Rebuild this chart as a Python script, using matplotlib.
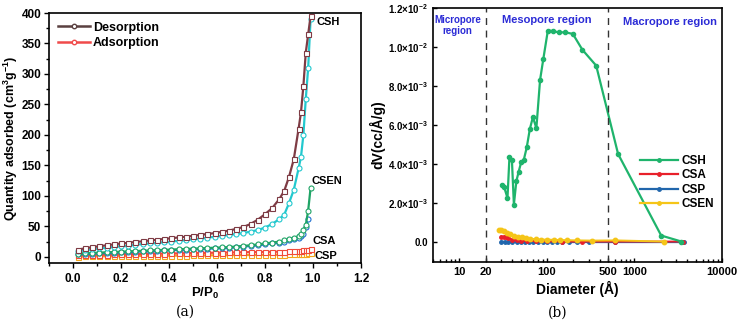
import matplotlib
matplotlib.use("Agg")
import matplotlib.pyplot as plt
from matplotlib.ticker import FixedLocator, LogLocator, NullFormatter, MultipleLocator
from matplotlib.lines import Line2D

plt.rcParams['font.family'] = ['Liberation Sans', 'DejaVu Sans']
plt.rcParams['mathtext.fontset'] = 'custom'
plt.rcParams['mathtext.rm'] = 'Liberation Sans:bold'
plt.rcParams['mathtext.it'] = 'Liberation Sans:bold'
plt.rcParams['mathtext.bf'] = 'Liberation Sans:bold'

# ---------------- (a) isotherms ----------------
pp = [0.02, 0.05, 0.08, 0.11, 0.14, 0.17, 0.20, 0.23, 0.26, 0.29, 0.32, 0.35, 0.38,
      0.41, 0.44, 0.47, 0.50, 0.53, 0.56, 0.59, 0.62, 0.65, 0.68, 0.71, 0.74, 0.77,
      0.80, 0.83, 0.86, 0.88, 0.90, 0.92, 0.94, 0.95, 0.96, 0.97, 0.98, 0.99]
csh_des = [12, 14, 16, 17.5, 19, 20.5, 22, 23, 24.5, 25.5, 27, 28, 29.5, 30.5, 32, 33,
           34.5, 36, 37.5, 39, 41, 43, 46, 49, 54, 61, 70, 80, 95, 108, 131, 160, 210,
           237, 280, 335, 365, 395]
csh_ads = [9, 11, 12.5, 14, 15, 16.5, 17.5, 18.5, 20, 21, 22, 23, 24, 25, 26.5, 27.5,
           29, 30, 31.5, 33, 34.5, 36, 37.5, 39, 41.5, 44, 48, 54, 62, 69, 88, 110, 145,
           164, 200, 259, 310, 390]
csen_a = [5, 6, 6.5, 7, 7.5, 8, 8.5, 9, 9.5, 10, 10.5, 11, 11.5, 12, 12.5, 13, 13.5, 14,
          14.5, 15, 15.5, 16, 17, 18, 19, 20.5, 22, 23.5, 25, 27, 29, 31, 34, 38, 44,
          52, 76, 113]
csen_b = [4, 5, 5.5, 6, 6.5, 7, 7.5, 8, 8.5, 9, 9.5, 10, 10.5, 11, 11.5, 12, 12.5, 13,
          13.5, 14, 14.5, 15, 16, 17, 18, 19, 20.5, 22, 23.5, 25, 27, 29, 31, 34, 38,
          49, 62, None]
csa = [3, 3.2, 3.4, 3.6, 3.8, 4, 4.2, 4.4, 4.6, 4.8, 5, 5.2, 5.4, 5.6, 5.8, 6, 6.2, 6.4,
       6.6, 6.8, 7, 7.2, 7.4, 7.6, 7.8, 8, 8.2, 8.4, 8.6, 8.8, 9, 9.3, 9.6, 10, 10.5,
       11, 11.5, 12.5]
csp = [0.5, 0.7, 0.9, 1.0, 1.1, 1.2, 1.3, 1.4, 1.5, 1.6, 1.7, 1.8, 1.9, 2.0, 2.1, 2.2,
       2.3, 2.4, 2.5, 2.6, 2.7, 2.8, 2.9, 3.0, 3.1, 3.2, 3.3, 3.4, 3.6, 3.8, 4.0, 4.2,
       4.5, 4.8, 5.1, 5.5, 6.0, 7.0]

# ---------------- (b) pore size distribution ----------------
csh_d = [31, 32.5, 35.5, 37.4, 39.9, 42, 44.8, 47.7, 50.8, 54.5, 58.9, 63.9, 69.2, 75.9,
         83.6, 91, 102.6, 116, 136, 163, 198, 255, 366, 651, 2023, 3450]
csh_v = [2.92e-3, 2.8e-3, 2.24e-3, 4.37e-3, 4.17e-3, 1.9e-3, 3.1e-3, 3.6e-3, 4.07e-3,
         4.2e-3, 4.84e-3, 5.78e-3, 6.39e-3, 5.83e-3, 8.3e-3, 9.37e-3, 10.84e-3,
         10.82e-3, 10.75e-3, 10.75e-3, 10.67e-3, 9.85e-3, 9.04e-3, 4.5e-3, 0.31e-3, 0.0]
csen_d = [28.5, 30, 32, 35, 38, 42, 47, 52, 58, 65, 75, 85, 100, 120, 140, 170, 220,
          330, 600, 2200]
csen_v = [0.62e-3, 0.6e-3, 0.55e-3, 0.45e-3, 0.38e-3, 0.3e-3, 0.25e-3, 0.22e-3,
          0.18e-3, 0.15e-3, 0.12e-3, 0.1e-3, 0.1e-3, 0.09e-3, 0.08e-3, 0.07e-3,
          0.06e-3, 0.05e-3, 0.06e-3, 0.0]
csa_d = [30, 32, 34, 36, 40, 45, 50, 60, 75, 100, 150, 250, 600, 3600]
csa_v = [0.25e-3, 0.25e-3, 0.24e-3, 0.2e-3, 0.1e-3, 0.06e-3, 0.04e-3, 0.03e-3,
         0.02e-3, 0.01e-3, 0.0, 0.0, 0.0, 0.0]
csp_d = [30, 33, 36, 40, 45, 50, 56, 63, 70, 80, 90, 100, 115, 130, 150, 180, 220, 300,
         600, 3700]
csp_v = [0.0, -0.01e-3, -0.02e-3, -0.02e-3, -0.03e-3, -0.03e-3, -0.03e-3, -0.03e-3,
         -0.03e-3, -0.03e-3, -0.03e-3, -0.03e-3, -0.03e-3, -0.03e-3, -0.03e-3,
         -0.03e-3, -0.03e-3, -0.03e-3, -0.03e-3, -0.03e-3]

y_ticks_b = [0, 2e-3, 4e-3, 6e-3, 8e-3, 10e-3, 12e-3]
y_labels_b = ['0.0', r'$2.0{\times}10^{-3}$', r'$4.0{\times}10^{-3}$', r'$6.0{\times}10^{-3}$',
              r'$8.0{\times}10^{-3}$', r'$1.0{\times}10^{-2}$', r'$1.2{\times}10^{-2}$']
x_ticks_b = [10, 20, 100, 500, 1000, 10000]

fig = plt.figure(figsize=(7.4, 3.26), dpi=100)

# ---- panel (a)
ax1 = fig.add_axes([0.0662, 0.1933, 0.4216, 0.7668])
ms = 3.6
def iso(x, y, c, m, label=None):
    xs = [a for a, b in zip(x, y) if b is not None]
    ys = [b for b in y if b is not None]
    ax1.plot(xs, ys, color=c, lw=1.6, marker=m, ms=ms, mfc='white', mec=c, mew=0.8,
             label=label)

iso(pp, csp, '#F2A51A', 's')
iso(pp, csa, '#F04A3A', 's')
iso(pp, csen_b, '#1F6FD0', 'o')
iso(pp, csen_a, '#1FA466', 'o')
iso(pp, csh_ads, '#22C8CE', 'o')
iso(pp, csh_des, '#7E3B44', 's')

h1 = Line2D([], [], color='#5A4040', lw=1.8, marker='o', ms=3.2, mfc='white', mec='#5A4040')
h2 = Line2D([], [], color='#F04A4A', lw=1.8, marker='o', ms=3.2, mfc='white', mec='#F04A4A')
ax1.legend([h1, h2], ['Desorption', 'Adsorption'], loc='upper left',
           bbox_to_anchor=(0.0, 1.0), frameon=False, handlelength=2.6,
           handletextpad=0.2, labelspacing=0.25, borderaxespad=0.3,
           prop={'weight': 'bold', 'size': 9})

ax1.set_xlim(-0.1, 1.2)
ax1.set_ylim(-10, 400)
ax1.xaxis.set_major_locator(MultipleLocator(0.2))
ax1.xaxis.set_minor_locator(MultipleLocator(0.1))
ax1.yaxis.set_major_locator(MultipleLocator(50))
ax1.yaxis.set_minor_locator(MultipleLocator(25))
ax1.set_xticks([0.0, 0.2, 0.4, 0.6, 0.8, 1.0, 1.2])
ax1.set_xticklabels(['0.0', '0.2', '0.4', '0.6', '0.8', '1.0', '1.2'])
ax1.tick_params(which='both', direction='out', width=1.0, labelsize=8.5)
ax1.tick_params(which='major', length=3.5)
ax1.tick_params(which='minor', length=2)
ax1.tick_params(axis='y', pad=2)
for lab in ax1.get_xticklabels() + ax1.get_yticklabels():
    lab.set_fontweight('bold')
for s in ax1.spines.values():
    s.set_linewidth(1.2)
ax1.set_xlabel(r'P/P$_0$', fontsize=9.5, fontweight='bold', labelpad=1)
ax1.set_ylabel(r'Quantity adsorbed (cm$^3$g$^{-1}$)', fontsize=9, fontweight='bold', labelpad=1)
ax1.text(1.015, 385, 'CSH', fontsize=8, fontweight='bold', va='center')
ax1.text(0.995, 124, 'CSEN', fontsize=8, fontweight='bold', va='center')
ax1.text(1.0, 26, 'CSA', fontsize=8, fontweight='bold', va='center')
ax1.text(1.005, 1, 'CSP', fontsize=8, fontweight='bold', va='center')

# ---- panel (b)
ax2 = fig.add_axes([0.5851, 0.1963, 0.3905, 0.7791])
ax2.set_xscale('log')
ax2.plot(csp_d, csp_v, color='#2166AC', lw=1.4, marker='o', ms=2.5)
ax2.plot(csa_d, csa_v, color='#E8202A', lw=1.4, marker='o', ms=2.5)
ax2.plot(csen_d, csen_v, color='#F5C518', lw=1.4, marker='o', ms=3.2)
ax2.plot(csh_d, csh_v, color='#1FB46C', lw=1.6, marker='o', ms=3.0)
lh = [Line2D([], [], color=c, lw=1.6, marker='o', ms=2.5) for c in
      ['#1FB46C', '#E8202A', '#2166AC', '#F5C518']]
ax2.legend(lh, ['CSH', 'CSA', 'CSP', 'CSEN'], loc='upper left',
           bbox_to_anchor=(0.7, 0.44), frameon=False, handlelength=3.2,
           handletextpad=0.3, labelspacing=0.2, borderaxespad=0.0,
           prop={'weight': 'bold', 'size': 8.5})
ax2.axvline(20, color='#333333', ls=(0, (5, 4)), lw=1.0)
ax2.axvline(500, color='#333333', ls=(0, (5, 4)), lw=1.0)
ax2.set_xlim(5, 10000)
ax2.set_ylim(-1.05e-3, 12e-3)
ax2.xaxis.set_major_locator(FixedLocator(x_ticks_b))
ax2.set_xticklabels([str(t) for t in x_ticks_b])
ax2.xaxis.set_minor_locator(LogLocator(base=10, subs=[2, 3, 4, 5, 6, 7, 8, 9]))
ax2.xaxis.set_minor_formatter(NullFormatter())
ax2.set_yticks(y_ticks_b)
ax2.set_yticklabels(y_labels_b)
ax2.tick_params(which='both', direction='in', width=1.0)
ax2.tick_params(which='major', length=3)
ax2.tick_params(which='minor', length=2)
ax2.tick_params(axis='x', labelsize=8)
ax2.tick_params(axis='y', labelsize=7)
for lab in ax2.get_xticklabels() + ax2.get_yticklabels():
    lab.set_fontweight('bold')
for s in ax2.spines.values():
    s.set_linewidth(1.2)
ax2.set_xlabel('Diameter (Å)', fontsize=10, fontweight='bold', labelpad=3)
ax2.set_ylabel('dV(cc/Å/g)', fontsize=10, fontweight='bold', labelpad=2)
blue = '#2B2BD6'
ax2.text(9.5, 0.0111, 'Micropore\nregion', color=blue, fontsize=7, fontweight='bold',
         ha='center', va='center', linespacing=1.2)
ax2.text(100, 0.0114, 'Mesopore region', color=blue, fontsize=8, fontweight='bold',
         ha='center', va='center')
ax2.text(2550, 0.0113, 'Macropore region', color=blue, fontsize=8, fontweight='bold',
         ha='center', va='center')

fig.text(0.25, 0.043, '(a)', fontsize=10, family='DejaVu Serif', ha='center', va='center')
fig.text(0.754, 0.04, '(b)', fontsize=10, family='DejaVu Serif', ha='center', va='center')

fig.savefig('out.png', dpi=100)
